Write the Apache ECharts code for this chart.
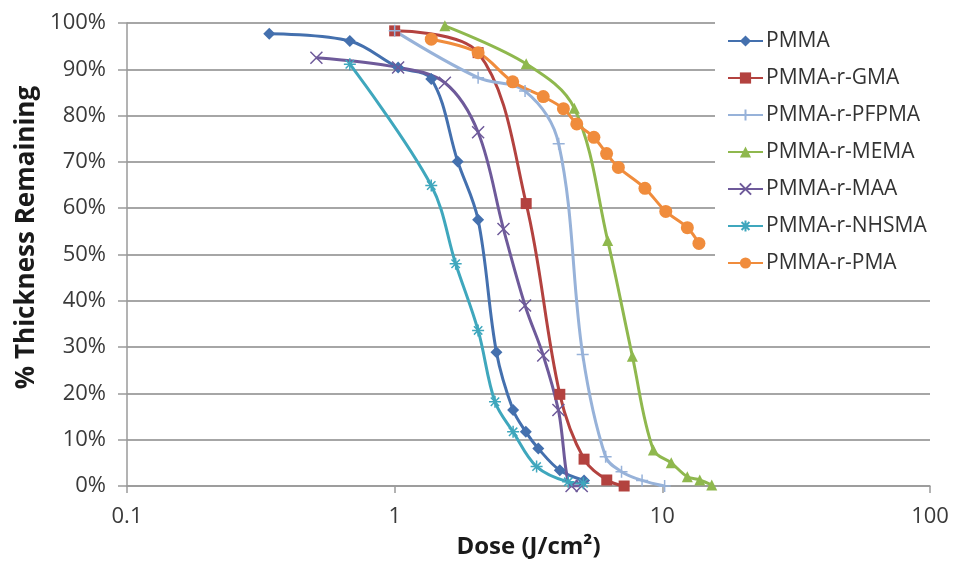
<!DOCTYPE html>
<html>
<head>
<meta charset="utf-8">
<script src="https://cdn.jsdelivr.net/npm/echarts@6/dist/echarts.min.js"></script>
<style>
  html, body { margin: 0; padding: 0; background: #fff; }
  #chart { width: 955px; height: 567px; }
</style>
</head>
<body>
<div id="chart"></div>
<script>
// dose (J/cm2) and % thickness remaining
var pmma = [[0.34, 97.7], [0.68, 96.1], [1.03, 90.4], [1.37, 87.9], [1.72, 70.1], [2.05, 57.5],
            [2.4, 28.9], [2.77, 16.4], [3.09, 11.7], [3.44, 8.1], [4.14, 3.4], [5.1, 1.2]];
var gma = [[1.0, 98.3], [2.05, 93.6], [3.1, 61.0], [4.14, 19.8], [5.1, 5.8], [6.2, 1.3], [7.2, 0]];
var pfpma = [[1.0, 98.3], [2.05, 88.2], [3.07, 85.3], [4.1, 73.9], [5.04, 28.4], [6.14, 6.3],
             [7.04, 3.1], [8.4, 1.2], [10.2, 0]];
var mema = [[1.54, 99.4], [3.1, 91.2], [4.69, 81.6], [6.25, 53.0], [7.73, 28.0], [9.26, 7.8],
            [10.8, 5.0], [12.4, 2.0], [13.8, 1.3], [15.3, 0.2]];
var maa = [[0.51, 92.5], [1.03, 90.4], [1.54, 87.1], [2.05, 76.4], [2.55, 55.5], [3.07, 39.0],
           [3.59, 28.2], [4.09, 16.4], [4.58, 0], [5.0, 0]];
var nhsma = [[0.68, 91.1], [1.37, 64.9], [1.69, 48.0], [2.05, 33.6], [2.37, 18.2], [2.77, 11.7],
             [3.39, 4.2], [4.45, 0.9], [5.07, 0.6]];
var pma = [[1.37, 96.5], [2.05, 93.6], [2.76, 87.3], [3.59, 84.1], [4.27, 81.5], [4.79, 78.2],
           [5.55, 75.3], [6.19, 71.8], [6.85, 68.8], [8.61, 64.3], [10.3, 59.3], [12.4, 55.8], [13.7, 52.4]];

var names = ['PMMA', 'PMMA-r-GMA', 'PMMA-r-PFPMA', 'PMMA-r-MEMA', 'PMMA-r-MAA', 'PMMA-r-NHSMA', 'PMMA-r-PMA'];
var colors = ['#4470AE', '#B3423F', '#97B2D9', '#8FB84E', '#6E5A9A', '#3FA7BD', '#F08C3C'];
var datas = [pmma, gma, pfpma, mema, maa, nhsma, pma];

var PLUS = 'path://M0,5L10,5M5,0L5,10';
var CROSS = 'path://M1,1L9,9M9,1L1,9';
var STAR = 'path://M0,5L10,5M5,0L5,10M1.5,1.5L8.5,8.5M8.5,1.5L1.5,8.5';
var symbols = ['diamond', 'rect', PLUS, 'triangle', CROSS, STAR, 'circle'];
var sizes = [12, 11, 12, 11, 12, 12, 13];

var chart = echarts.init(document.getElementById('chart'));

var series = [];
for (var i = 0; i < names.length; i++) {
    var stroked = symbols[i].indexOf('path://') === 0;
    series.push({
        name: names[i],
        type: 'line',
        smooth: 0.35,
        data: datas[i],
        symbol: symbols[i],
        symbolSize: sizes[i],
        showAllSymbol: true,
        lineStyle: {width: 3, color: colors[i]},
        itemStyle: {
            color: colors[i],
            borderColor: colors[i],
            borderWidth: stroked ? 1.5 : 0
        },
        emphasis: {disabled: true}
    });
}

chart.setOption({
    animation: false,
    textStyle: {fontFamily: 'Open Sans'},
    grid: {left: 127, right: 25, top: 23, bottom: 81},
    legend: {
        orient: 'vertical',
        left: 715,
        top: 14,
        padding: [16, 6, 8, 12],
        backgroundColor: '#fff',
        itemWidth: 35,
        itemHeight: 14,
        itemGap: 15,
        data: names,
        textStyle: {fontSize: 21, lineHeight: 22, color: '#333', padding: [0, 0, 0, -2]}
    },
    xAxis: {
        type: 'log',
        logBase: 10,
        min: 0.1,
        max: 100,
        name: 'Dose (J/cm²)',
        nameLocation: 'middle',
        nameGap: 49,
        nameTextStyle: {fontSize: 24, fontWeight: 'bold', color: '#1a1a1a'},
        axisLine: {show: true, lineStyle: {color: '#9a9a9a', width: 1.5}},
        axisTick: {show: true, length: 7, lineStyle: {color: '#9a9a9a', width: 1.5}},
        minorTick: {show: false},
        splitLine: {show: false},
        axisLabel: {fontSize: 22, color: '#3a3a3a', margin: 20}
    },
    yAxis: {
        type: 'value',
        min: 0,
        max: 100,
        interval: 10,
        name: '% Thickness Remaining',
        nameLocation: 'middle',
        nameGap: 84,
        nameTextStyle: {fontSize: 26, fontWeight: 'bold', color: '#1a1a1a', padding: [0, 0, 0, 34]},
        axisLine: {show: true, lineStyle: {color: '#9a9a9a', width: 1.5}},
        axisTick: {show: true, length: 9, lineStyle: {color: '#9a9a9a', width: 1.5}},
        splitLine: {show: true, lineStyle: {color: '#a6a6a6', width: 2}},
        axisLabel: {fontSize: 22, color: '#3a3a3a', margin: 21, formatter: '{value}%'}
    },
    series: series
});
</script>
</body>
</html>
